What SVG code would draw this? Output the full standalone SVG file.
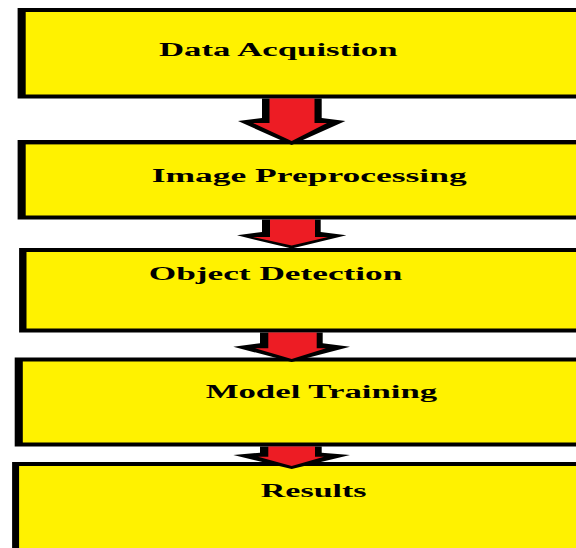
<svg xmlns="http://www.w3.org/2000/svg" width="576" height="548" viewBox="0 0 576 548">
<style>
.frame{fill:#000000}
.fill{fill:#FFF200}
.lbl{font-family:"Liberation Serif","Times New Roman",serif;font-weight:bold;font-size:18.5px;fill:#000000}
.ab{fill:#000000}
.ar{fill:#ED1C24}
</style>
<rect width="576" height="548" fill="#FFFFFF"/>
<g id="node-data-acquisition">
<rect class="frame" x="17.6" y="8" width="600" height="90.5"/>
<rect class="fill" x="25.7" y="12" width="600" height="82.5"/>
<text class="lbl" x="159" y="56" textLength="238.5" lengthAdjust="spacingAndGlyphs">Data Acquistion</text>
</g>
<g id="node-image-preprocessing">
<rect class="frame" x="17.6" y="140" width="600" height="79.5"/>
<rect class="fill" x="25.7" y="144.4" width="600" height="71.1"/>
<text class="lbl" x="151.7" y="182" textLength="315" lengthAdjust="spacingAndGlyphs">Image Preprocessing</text>
</g>
<g id="node-object-detection">
<rect class="frame" x="19.1" y="248" width="600" height="84.5"/>
<rect class="fill" x="26.5" y="252" width="600" height="76.5"/>
<text class="lbl" x="148.8" y="280" textLength="253.5" lengthAdjust="spacingAndGlyphs">Object Detection</text>
</g>
<g id="node-model-training">
<rect class="frame" x="14.7" y="357.5" width="600" height="89"/>
<rect class="fill" x="22.8" y="361.5" width="600" height="81"/>
<text class="lbl" x="205.7" y="398" textLength="231.5" lengthAdjust="spacingAndGlyphs">Model Training</text>
</g>
<g id="node-results">
<rect class="frame" x="12.1" y="462" width="600" height="100"/>
<rect class="fill" x="19.1" y="466" width="600" height="100"/>
<text class="lbl" x="260.8" y="497" textLength="105.8" lengthAdjust="spacingAndGlyphs">Results</text>
</g>
<g id="connectors">
<g id="arrow-1">
<polygon class="ab" points="262,98.5 262,118 238,121 291.7,145 345.4,121 321.7,118 321.7,98.5"/>
<polygon class="ar" points="269.5,98.5 269.5,123 253,123 291.7,141 327,123 314.5,123 314.5,98.5"/>
</g>
<g id="arrow-2">
<polygon class="ab" points="262,219.5 262,232 237,235.3 291.7,248.5 346.4,235.3 320.7,232 320.7,219.5"/>
<polygon class="ar" points="270,219.5 270,237 253,237 291.7,245.5 328,237 315,237 315,219.5"/>
</g>
<g id="arrow-3">
<polygon class="ab" points="260,332.5 260,343.3 233.3,346.7 291.7,362 350,346.7 322.7,343.3 322.7,332.5"/>
<polygon class="ar" points="268.3,332.5 268.3,348.3 255,348.3 291.7,359 326,348.3 316.7,348.3 316.7,332.5"/>
</g>
<g id="arrow-4">
<polygon class="ab" points="260,446.5 260,452.7 233.3,455 291.7,469 350,455 321.7,452.7 321.7,446.5"/>
<polygon class="ar" points="268.3,446.5 268.3,456.7 258,456.7 291.7,466 324,456.7 315,456.7 315,446.5"/>
</g>
</g>
</svg>
